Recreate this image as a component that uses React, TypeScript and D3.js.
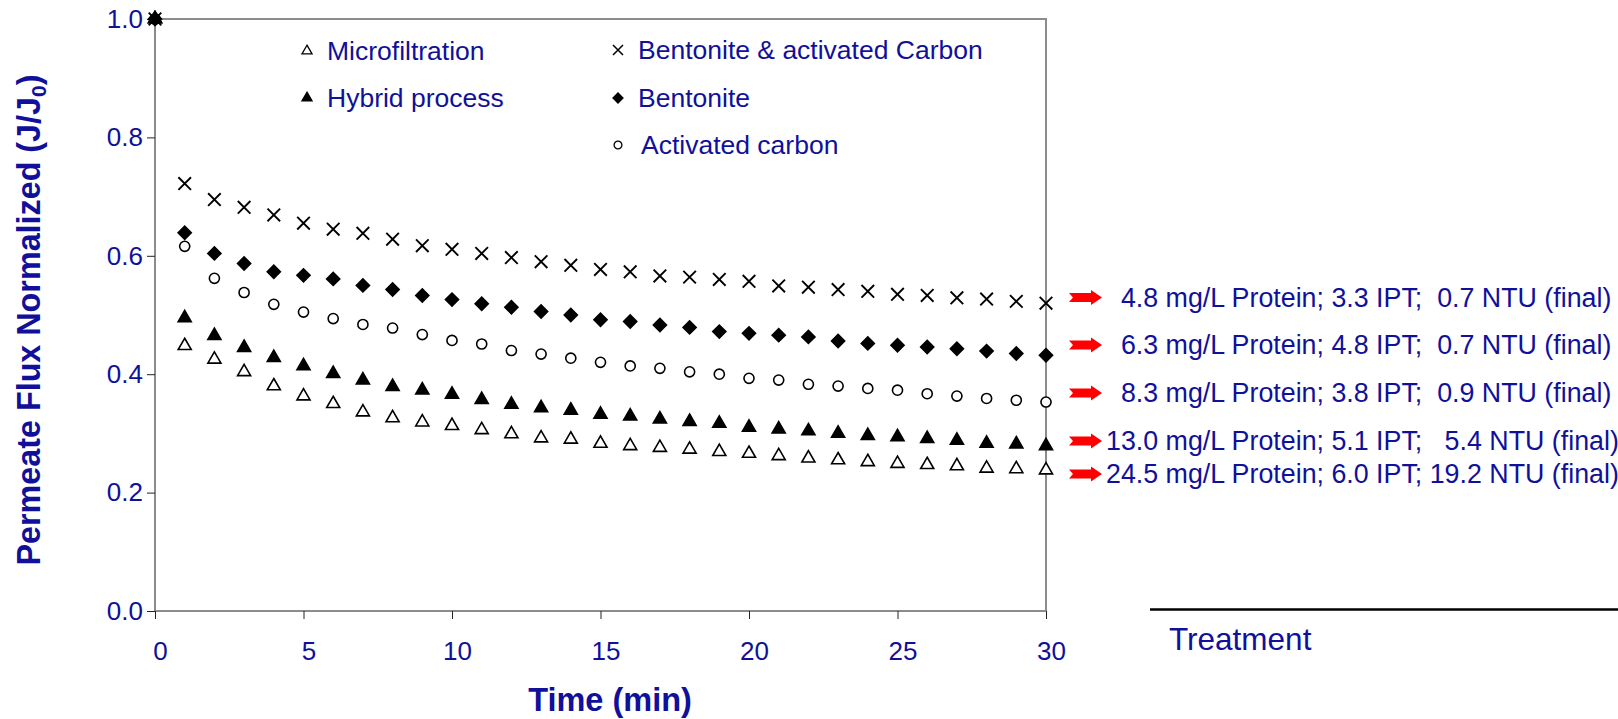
import { useEffect, useRef } from 'react'
import * as d3 from 'd3'

const times = [0, 1, 2, 3, 4, 5, 6, 7, 8, 9, 10, 11, 12, 13, 14, 15, 16, 17, 18, 19, 20, 21, 22, 23, 24, 25, 26, 27, 28, 29, 30]

const microfiltration = [1.0, 0.448, 0.425, 0.404, 0.38, 0.363, 0.35, 0.336, 0.326, 0.319, 0.313, 0.306, 0.299, 0.292, 0.29, 0.283, 0.279, 0.276, 0.273, 0.269, 0.266, 0.262, 0.258, 0.255, 0.252, 0.249, 0.247, 0.245, 0.241, 0.24, 0.238]
const hybrid = [1.0, 0.495, 0.465, 0.445, 0.428, 0.414, 0.401, 0.39, 0.379, 0.373, 0.366, 0.357, 0.349, 0.343, 0.339, 0.332, 0.329, 0.324, 0.32, 0.317, 0.31, 0.307, 0.304, 0.3, 0.296, 0.294, 0.291, 0.288, 0.283, 0.282, 0.279]
const bentoniteCarbon = [1.0, 0.722, 0.695, 0.682, 0.669, 0.655, 0.645, 0.638, 0.628, 0.617, 0.611, 0.604, 0.597, 0.59, 0.584, 0.577, 0.573, 0.566, 0.564, 0.56, 0.557, 0.549, 0.547, 0.543, 0.54, 0.535, 0.533, 0.529, 0.527, 0.523, 0.52]
const bentonite = [1.0, 0.639, 0.604, 0.587, 0.573, 0.567, 0.561, 0.55, 0.543, 0.533, 0.526, 0.519, 0.513, 0.506, 0.5, 0.492, 0.489, 0.483, 0.479, 0.472, 0.469, 0.466, 0.463, 0.456, 0.452, 0.449, 0.446, 0.443, 0.439, 0.435, 0.432]
const activatedCarbon = [1.0, 0.616, 0.562, 0.538, 0.518, 0.505, 0.494, 0.484, 0.478, 0.467, 0.457, 0.451, 0.44, 0.434, 0.427, 0.42, 0.414, 0.41, 0.404, 0.4, 0.393, 0.39, 0.383, 0.38, 0.376, 0.373, 0.367, 0.363, 0.359, 0.356, 0.353]

const yTicks = [0, 0.2, 0.4, 0.6, 0.8, 1.0]
const xTicks = [0, 5, 10, 15, 20, 25, 30]

// final-quality notes, top to bottom
const treatmentNotes = [
  '  4.8 mg/L Protein; 3.3 IPT;  0.7 NTU (final)',
  '  6.3 mg/L Protein; 4.8 IPT;  0.7 NTU (final)',
  '  8.3 mg/L Protein; 3.8 IPT;  0.9 NTU (final)',
  '13.0 mg/L Protein; 5.1 IPT;   5.4 NTU (final)',
  '24.5 mg/L Protein; 6.0 IPT; 19.2 NTU (final)',
]

const BLUE = '#10109a'
const FONT = '"Liberation Sans", Arial, Helvetica, sans-serif'

const series = [
  { name: 'Microfiltration', values: microfiltration, shape: 'tri', fill: '#fff' },
  { name: 'Hybrid process', values: hybrid, shape: 'tri', fill: '#000' },
  { name: 'Bentonite & activated Carbon', values: bentoniteCarbon, shape: 'x', fill: 'none' },
  { name: 'Bentonite', values: bentonite, shape: 'diamond', fill: '#000' },
  { name: 'Activated carbon', values: activatedCarbon, shape: 'circle', fill: '#fff' },
]
// hollow markers underneath so the t=0 pile reads as a black blob
const drawOrder = [4, 0, 1, 3, 2]

function symbolPath(shape, big) {
  if (shape === 'tri') return d3.symbol(d3.symbolTriangle, big ? 74 : 44)()
  if (shape === 'diamond') return d3.symbol(d3.symbolSquare, big ? 86 : 50)()
  if (shape === 'circle') return d3.symbol(d3.symbolCircle, big ? 80 : 48)()
  const r = big ? 6.3 : 5
  return `M${-r},${-r}L${r},${r}M${-r},${r}L${r},${-r}`
}

export default function App() {
  const ref = useRef(null)

  useEffect(() => {
    const svg = d3.select(ref.current)
    svg.selectAll('*').remove()

    const x = d3.scaleLinear().domain([0, 30]).range([155, 1046])
    const y = d3.scaleLinear().domain([0, 1]).range([611, 19])

    // frame
    svg.append('path')
      .attr('d', `M${x(0)},${y(0)}V${y(1)}H${x(30)}V${y(0)}Z`)
      .attr('fill', 'none')
      .attr('stroke', '#8c8c8c')
      .attr('stroke-width', 2)

    // y axis
    const gy = svg.append('g').attr('transform', `translate(${x(0)},0)`)
    gy.call(d3.axisLeft(y).tickValues(yTicks).tickSize(8).tickPadding(4).tickFormat(d3.format('.1f')))
    gy.select('.domain').remove()
    gy.selectAll('.tick line').attr('stroke', '#222')
    gy.selectAll('text').attr('fill', BLUE).attr('font-size', 26).attr('font-family', FONT)

    // x axis
    const gx = svg.append('g').attr('transform', `translate(0,${y(0)})`)
    gx.call(d3.axisBottom(x).tickValues(xTicks).tickSize(8).tickPadding(23).tickFormat(d3.format('d')))
    gx.select('.domain').remove()
    gx.selectAll('.tick line').attr('stroke', '#222')
    gx.selectAll('text').attr('fill', BLUE).attr('font-size', 26).attr('font-family', FONT)
    gx.selectAll('.tick text').attr('dx', 5)

    // titles
    svg.append('text')
      .attr('x', 610)
      .attr('y', 711)
      .attr('text-anchor', 'middle')
      .attr('font-family', FONT)
      .attr('font-weight', 'bold')
      .attr('font-size', 32.5)
      .attr('fill', BLUE)
      .text('Time (min)')

    const yt = svg.append('text')
      .attr('transform', 'translate(40,320) rotate(-90)')
      .attr('text-anchor', 'middle')
      .attr('font-family', FONT)
      .attr('font-weight', 'bold')
      .attr('font-size', 32.3)
      .attr('fill', BLUE)
    yt.append('tspan').text('Permeate Flux Normalized (J/J')
    yt.append('tspan').attr('font-size', 21).attr('dy', 6).text('0')
    yt.append('tspan').attr('dy', -6).text(')')

    // points
    drawOrder.forEach((k) => {
      const s = series[k]
      svg.append('g')
        .selectAll('path')
        .data(s.values.map((v, i) => ({ t: times[i], v })))
        .join('path')
        .attr('transform', (d) => `translate(${x(d.t)},${y(d.v)})${s.shape === 'diamond' ? ' rotate(45)' : ''}`)
        .attr('d', symbolPath(s.shape, true))
        .attr('fill', s.fill)
        .attr('stroke', '#000')
        .attr('stroke-width', s.shape === 'x' ? 1.9 : 1.6)
    })

    // legend
    const legendPos = [
      [307, 60],
      [307, 107],
      [618, 59],
      [618, 107],
      [618, 154],
    ]
    series.forEach((s, i) => {
      const [lx, ly] = legendPos[i]
      svg.append('path')
        .attr('transform', `translate(${lx},${ly - 9})${s.shape === 'diamond' ? ' rotate(45)' : ''}`)
        .attr('d', symbolPath(s.shape, false))
        .attr('fill', s.fill)
        .attr('stroke', '#000')
        .attr('stroke-width', s.shape === 'x' ? 1.5 : 1.3)
      svg.append('text')
        .attr('x', lx + (s.name === 'Activated carbon' ? 23 : 20))
        .attr('y', ly)
        .attr('font-family', FONT)
        .attr('font-size', 26.5)
        .attr('fill', BLUE)
        .text(s.name)
    })

    // red arrows + notes
    const noteY = [297.5, 345, 393, 441, 474]
    const arrow = 'M0,-4.5L22,-4.5L22,-7.5L33,0L22,7.5L22,4.5L0,4.5L4,0Z'
    treatmentNotes.forEach((txt, i) => {
      svg.append('path')
        .attr('transform', `translate(1069,${noteY[i]})`)
        .attr('d', arrow)
        .attr('fill', '#ff0000')
      svg.append('text')
        .attr('x', 1106)
        .attr('y', noteY[i] + 9)
        .attr('font-family', FONT)
        .attr('font-size', 26.8)
        .attr('fill', BLUE)
        .style('white-space', 'pre')
        .text(txt)
    })

    // treatment line
    svg.append('line')
      .attr('x1', 1150)
      .attr('x2', 1618)
      .attr('y1', 609.5)
      .attr('y2', 609.5)
      .attr('stroke', '#000')
      .attr('stroke-width', 2.5)
    svg.append('text')
      .attr('x', 1169)
      .attr('y', 650)
      .attr('font-family', FONT)
      .attr('font-size', 31.5)
      .attr('fill', BLUE)
      .text('Treatment')
  }, [])

  return (
    <svg
      ref={ref}
      width={1618}
      height={719}
      style={{ position: 'absolute', left: 0, top: 0, background: '#fff' }}
    />
  )
}
